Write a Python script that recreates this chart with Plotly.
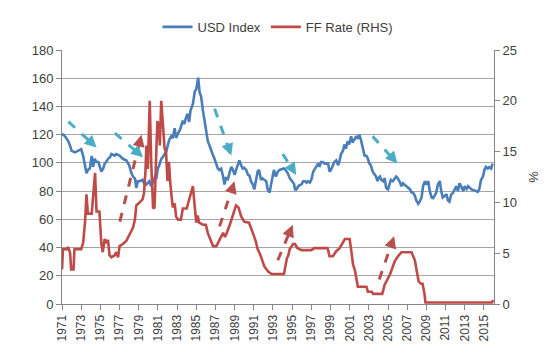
import math
import plotly.graph_objects as go

# ---------------- data ----------------
usd_years = [1971.0, 1971.15, 1971.4, 1971.65, 1971.85, 1972.0, 1972.35, 1972.7, 1973.0, 1973.2, 1973.4, 1973.55,
             1973.7, 1973.9, 1974.1, 1974.25, 1974.4, 1974.6, 1974.8, 1974.95, 1975.1, 1975.3, 1975.45, 1975.6,
             1975.8, 1976.0, 1976.15, 1976.5, 1976.65, 1977.0, 1977.35, 1977.7, 1978.0, 1978.25, 1978.4, 1978.6,
             1978.75, 1978.9, 1979.1, 1979.4, 1979.6, 1979.8, 1980.1, 1980.3, 1980.5, 1980.7, 1980.85, 1981.0,
             1981.15, 1981.35, 1981.5, 1981.7, 1981.9, 1982.05, 1982.2, 1982.4, 1982.55, 1982.75, 1982.9, 1983.1,
             1983.3, 1983.6, 1983.75, 1983.9, 1984.1, 1984.25, 1984.4, 1984.65, 1984.85, 1985.0, 1985.2, 1985.35,
             1985.5, 1985.7, 1985.9, 1986.05, 1986.2, 1986.4, 1986.55, 1986.7, 1986.9, 1987.1, 1987.25, 1987.4,
             1987.6, 1987.8, 1987.95, 1988.1, 1988.3, 1988.5, 1988.65, 1988.8, 1989.0, 1989.2, 1989.35, 1989.5,
             1989.7, 1989.85, 1990.0, 1990.2, 1990.4, 1990.55, 1990.7, 1990.9, 1991.05, 1991.2, 1991.4, 1991.55,
             1991.75, 1991.9, 1992.1, 1992.3, 1992.45, 1992.65, 1992.8, 1993.0, 1993.1, 1993.3, 1993.5, 1993.7,
             1994.1, 1994.25, 1994.4, 1994.55, 1994.75, 1995.1, 1995.2, 1995.3, 1995.45, 1995.65, 1995.85, 1996.0,
             1996.15, 1996.35, 1996.5, 1996.65, 1996.85, 1997.0, 1997.2, 1997.35, 1997.5, 1997.7, 1997.85, 1998.0,
             1998.2, 1998.4, 1998.75, 1998.9, 1999.05, 1999.25, 1999.4, 1999.6, 1999.8, 1999.95, 2000.1, 2000.3,
             2000.45, 2000.6, 2000.8, 2000.95, 2001.15, 2001.3, 2001.5, 2001.7, 2001.85, 2002.0, 2002.15, 2002.3,
             2002.55, 2002.75, 2002.9, 2003.05, 2003.2, 2003.4, 2003.6, 2003.75, 2003.9, 2004.0, 2004.15, 2004.3,
             2004.5, 2004.65, 2004.8, 2005.0, 2005.15, 2005.3, 2005.5, 2005.7, 2005.85, 2006.0, 2006.2, 2006.4,
             2006.55, 2006.7, 2006.9, 2007.1, 2007.3, 2007.45, 2007.6, 2007.8, 2007.95, 2008.15, 2008.3, 2008.5,
             2008.65, 2008.85, 2009.0, 2009.2, 2009.35, 2009.55, 2009.7, 2009.85, 2010.0, 2010.2, 2010.4, 2010.55,
             2010.7, 2010.9, 2011.1, 2011.25, 2011.4, 2011.6, 2011.75, 2011.95, 2012.1, 2012.3, 2012.45, 2012.7,
             2012.85, 2013.0, 2013.2, 2013.35, 2013.5, 2013.7, 2014.0, 2014.2, 2014.35, 2014.5, 2014.7, 2014.9,
             2015.05, 2015.2, 2015.4, 2015.55, 2015.75, 2015.9]
usd_index = [120, 120, 118, 115.5, 112, 108.6, 107.5, 108.6, 109.7, 105.2, 98.4, 92.6,
             95, 96, 105, 97.2, 102.9, 100.6, 100.6, 97.2, 93.8, 96, 99.5, 100.6,
             102.9, 104, 106.3, 105.2, 106.3, 105.2, 102.9, 101.8, 98.4, 92.6, 90.3, 89,
             82.3, 87, 87, 88, 85, 84.7, 87, 83.5, 87, 90.3, 89.5, 96,
             98.4, 102.9, 104, 106.3, 108.6, 113, 116.6, 118.9, 117.5, 124.6, 117.7, 121,
             123.5, 130, 127.5, 131.4, 134.8, 129, 137, 141.7, 150.8, 152, 160.4, 150,
             147.4, 137, 128, 123.4, 115.5, 112, 108.6, 106.3, 102.9, 99.5, 96, 95,
             96, 90.3, 84.7, 89.2, 88.5, 93.8, 97.2, 95.5, 91.5, 96, 98.4, 101.8,
             98, 96, 96.5, 95, 91.5, 91, 87, 84.7, 81.2, 88, 93.8, 95,
             88, 89, 88, 87, 81.2, 79, 84.7, 91.5, 95, 90.3, 93.8, 95,
             96, 95.5, 93.8, 92.6, 89.2, 85.8, 85, 81.2, 81.2, 83.6, 84.7, 85,
             87, 87, 86, 87, 86, 88, 93.8, 96, 97.2, 99.5, 97.2, 100.6,
             100.6, 99.5, 99.5, 93.8, 95, 98.4, 100.6, 101.8, 98.4, 101.8, 106.3, 108.6,
             113, 110, 115.5, 113, 118.9, 114.4, 116.6, 119, 117, 120, 117, 113,
             105.2, 105, 103, 99.5, 98.4, 93.8, 92, 90.3, 87, 89.2, 90.3, 88,
             87, 89.2, 82.3, 81.2, 84.7, 88, 87, 89.2, 90.3, 89.2, 87, 83.5,
             85.5, 84.7, 83.5, 82.3, 81.2, 79, 79, 76.7, 73.3, 71, 72.5, 75.5,
             83.5, 87, 84.7, 87, 80, 75.5, 75, 76.7, 78.5, 84.7, 87, 80,
             75.5, 76.5, 77.8, 73.3, 72.5, 77.8, 78.5, 81.2, 83.5, 80, 85.5, 82.3,
             80, 83.5, 81.5, 83.5, 82.5, 81.2, 80.5, 80, 79.5, 81, 88, 90.3,
             95, 97.2, 96, 97, 96, 99.5]

ff_years = [1971.0, 1971.1, 1971.5, 1971.65, 1971.85, 1971.95, 1972.2, 1972.3, 1973.0, 1973.2, 1973.4, 1973.55,
            1973.7, 1974.1, 1974.3, 1974.45, 1974.6, 1974.9, 1975.1, 1975.25, 1975.45, 1975.6, 1975.8, 1975.95,
            1976.15, 1976.5, 1976.65, 1976.85, 1977.0, 1977.35, 1977.7, 1978.0, 1978.4, 1978.6, 1978.75, 1979.1,
            1979.4, 1979.55, 1979.7, 1979.8, 1979.95, 1980.15, 1980.3, 1980.5, 1980.65, 1980.85, 1980.95, 1981.1,
            1981.2, 1981.35, 1981.55, 1981.7, 1981.85, 1982.0, 1982.15, 1982.3, 1982.55, 1982.75, 1982.9, 1983.1,
            1983.4, 1983.6, 1984.0, 1984.3, 1984.65, 1984.85, 1985.0, 1985.15, 1985.3, 1985.7, 1986.0, 1986.2,
            1986.75, 1987.1, 1987.45, 1987.8, 1988.0, 1988.1, 1988.5, 1988.8, 1989.15, 1989.4, 1989.7, 1990.0,
            1990.5, 1990.9, 1991.2, 1991.4, 1991.7, 1992.1, 1992.5, 1992.85, 1994.15, 1994.45, 1994.6, 1994.75,
            1995.1, 1995.3, 1995.55, 1996.0, 1997.0, 1997.3, 1998.7, 1998.9, 1999.25, 1999.6, 1999.95, 2000.5,
            2001.0, 2001.2, 2001.35, 2001.55, 2001.7, 2001.85, 2002.75, 2002.9, 2003.3, 2003.45, 2004.4, 2004.65,
            2005.2, 2005.7, 2006.0, 2006.4, 2007.45, 2007.8, 2008.0, 2008.2, 2008.45, 2008.6, 2008.8, 2008.9,
            2015.85, 2015.95]
ff_rate = [3.4, 5.4, 5.4, 5.6, 5.0, 3.4, 3.4, 5.4, 5.4, 6.0, 8.0, 10.8,
           8.9, 8.9, 11.2, 12.9, 9.1, 9.1, 6.0, 5.1, 6.4, 6.0, 6.3, 4.8,
           4.6, 4.8, 5.1, 4.6, 5.7, 5.9, 6.2, 6.7, 7.5, 8.3, 9.7, 10.0,
           10.3, 10.9, 13.0, 15.6, 13.3, 20.0, 14.0, 9.4, 9.5, 15.5, 18.0, 17.5,
           15.6, 20.0, 17.0, 15.3, 15.0, 12.1, 14.0, 11.8, 9.5, 9.9, 8.6, 8.3,
           8.3, 9.4, 9.4, 10.5, 11.6, 9.5, 8.0, 8.7, 8.0, 7.8, 7.8, 7.0,
           5.7, 5.7, 6.4, 7.0, 6.6, 6.8, 7.8, 8.6, 9.7, 9.5, 8.6, 8.1,
           8.0, 7.0, 6.2, 5.4, 4.8, 3.7, 3.2, 2.95, 2.95, 4.5, 4.8, 5.4,
           5.9, 5.9, 5.5, 5.3, 5.3, 5.5, 5.5, 4.7, 4.7, 5.2, 5.5, 6.4,
           6.4, 5.0, 3.9, 3.3, 2.6, 1.7, 1.7, 1.2, 1.2, 1.0, 1.0, 1.9,
           2.9, 4.2, 4.65, 5.1, 5.1, 4.3, 3.2, 2.2, 2.0, 2.0, 1.0, 0.15,
           0.15, 0.4]

x_ticks = list(range(1971, 2016, 2))
x_tick_labels = [str(y) for y in x_ticks]

# decorative trend arrows (start year, start value, end year, end value) on left axis scale
teal_arrows = [(1971.66, 129.2, 1974.61, 110.9),
               (1976.51, 121.1, 1979.46, 104.0),
               (1986.91, 138.3, 1988.65, 105.2),
               (1994.02, 106.3, 1995.41, 91.5),
               (2003.38, 118.9, 2005.98, 99.5)]
red_arrows = [(1977.03, 58.4, 1979.29, 120.0),
              (1987.43, 55.0, 1988.99, 86.9),
              (1993.5, 31.0, 1995.06, 56.1),
              (2004.08, 17.3, 2005.64, 48.1)]

BLUE = "#4A7EBB"
RED = "#BE4B48"
TEAL = "#4BACC6"
DRED = "#B7504D"
TXT = "#404040"
AXC = "#868686"
GRID = "#A6A6A6"
FONT = "Liberation Sans, Arial, sans-serif"

W, H = 550, 354
ML, MR, MT, MB = 62, 55, 44, 47
X_RANGE = [1971, 2016.05]
Y_RANGE = [0, 180]
px_per_x = (W - ML - MR) / (X_RANGE[1] - X_RANGE[0])
px_per_y = (H - MT - MB) / (Y_RANGE[1] - Y_RANGE[0])

fig = go.Figure()
fig.add_trace(go.Scatter(x=usd_years, y=usd_index, name="USD Index", mode="lines",
                         line=dict(color=BLUE, width=2.6)))
fig.add_trace(go.Scatter(x=ff_years, y=ff_rate, name="FF Rate (RHS)", mode="lines",
                         line=dict(color=RED, width=2.6), yaxis="y2"))

shapes = []
annotations = []
HEAD = 9  # px length of solid part carrying the head
for arrows, col in ((teal_arrows, TEAL), (red_arrows, DRED)):
    for (x0, y0, x1, y1) in arrows:
        dxp = (x1 - x0) * px_per_x
        dyp = -(y1 - y0) * px_per_y
        L = math.hypot(dxp, dyp)
        ux, uy = dxp / L, dyp / L
        frac = (L - HEAD) / L
        xm = x0 + (x1 - x0) * frac
        ym = y0 + (y1 - y0) * frac
        shapes.append(dict(type="line", xref="x", yref="y", x0=x0, y0=y0, x1=xm, y1=ym,
                           line=dict(color=col, width=3, dash="dash"), layer="above"))
        annotations.append(dict(x=x1, y=y1, xref="x", yref="y",
                                ax=-ux * HEAD, ay=-uy * HEAD,
                                showarrow=True, arrowhead=2, arrowsize=0.8, arrowwidth=3,
                                arrowcolor=col, text=""))

fig.update_layout(
    width=W, height=H,
    margin=dict(l=ML, r=MR, t=MT, b=MB),
    paper_bgcolor="white", plot_bgcolor="white",
    font=dict(family=FONT, size=12, color=TXT),
    showlegend=True,
    legend=dict(orientation="h", x=0.5, xanchor="center", y=1.091, yanchor="middle",
                font=dict(family=FONT, size=13, color=TXT), itemwidth=30,
                bgcolor="rgba(0,0,0,0)", traceorder="normal"),
    xaxis=dict(range=X_RANGE, tickvals=x_ticks, ticktext=x_tick_labels, tickangle=-90,
               showgrid=False, zeroline=False, showline=True, linecolor=AXC, linewidth=1,
               ticks="outside", ticklen=5, tickcolor=AXC,
               tickfont=dict(family=FONT, size=12, color=TXT)),
    yaxis=dict(range=Y_RANGE, dtick=20, showgrid=True, gridcolor=GRID, gridwidth=1,
               zeroline=False, showline=True, linecolor=AXC, linewidth=1,
               ticks="outside", ticklen=5, tickcolor=AXC,
               tickfont=dict(family=FONT, size=13, color=TXT)),
    yaxis2=dict(range=[0, 25], dtick=5, overlaying="y", side="right", showgrid=False,
                zeroline=False, showline=True, linecolor=AXC, linewidth=1,
                ticks="outside", ticklen=5, tickcolor=AXC,
                tickfont=dict(family=FONT, size=13, color=TXT),
                title=dict(text="%", font=dict(family=FONT, size=13, color=TXT), standoff=12)),
    shapes=shapes,
    annotations=annotations,
)

fig.write_html("out.html")
